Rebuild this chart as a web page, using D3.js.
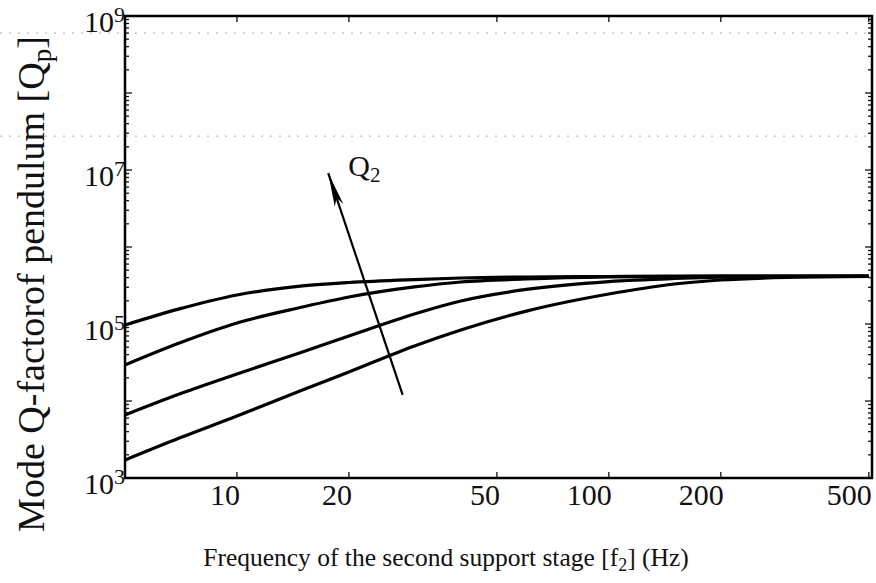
<!DOCTYPE html>
<html>
<head>
<meta charset="utf-8">
<title>Mode Q-factor of pendulum</title>
<script src="https://d3js.org/d3.v7.min.js"></script>
<style>
  body { margin: 0; background: #fff; }
  text { font-family: "Liberation Serif", "DejaVu Serif", serif; fill: #111; }
</style>
</head>
<body>
<svg width="876" height="583"></svg>

<script>
// frequency of second stage (Hz), shared by all curves
var freqs = [5, 7, 10, 15, 20, 30, 40, 60, 100, 150, 200, 300, 500];

// Q of pendulum mode for increasing Q2 (curve 4 = lowest Q2)
var qCurve1 = [9.7e4, 1.57e5, 2.38e5, 3.12e5, 3.46e5, 3.78e5, 3.96e5, 4.08e5, 4.14e5, 4.2e5, 4.2e5, 4.2e5, 4.2e5];
var qCurve2 = [2.94e4, 5.66e4, 1.03e5, 1.66e5, 2.24e5, 3.03e5, 3.51e5, 3.84e5, 4.08e5, 4.14e5, 4.2e5, 4.2e5, 4.2e5];
var qCurve3 = [6.58e3, 1.23e4, 2.24e4, 4.33e4, 6.98e4, 1.35e5, 1.99e5, 2.81e5, 3.56e5, 3.9e5, 4.06e5, 4.14e5, 4.2e5];
var qCurve4 = [1.71e3, 3.3e3, 6.38e3, 1.39e4, 2.38e4, 5.18e4, 8.35e4, 1.47e5, 2.45e5, 3.31e5, 3.73e5, 4.02e5, 4.14e5];

var xTicks = [10, 20, 50, 100, 200, 500];
var yTickExps = [3, 5, 7, 9];

// direction arrow "Q2 increasing": [f, Q] of tail and head
var arrowTail = [27.9, 1.2e4];
var arrowHead = [17.6, 9.1e6];

// faint scan lines seen on the original sheet (Q levels)
var scanLines = [6e8, 2.75e7];

var svg = d3.select("svg");

var x = d3.scaleLog().domain([5, 510]).range([125, 872]);
var y = d3.scaleLog().domain([1e3, 1e9]).range([478, 16]);

// scan lines
svg.selectAll(".scan")
  .data(scanLines)
  .enter().append("line")
  .attr("x1", 0).attr("x2", 872)
  .attr("y1", function(d) { return y(d); })
  .attr("y2", function(d) { return y(d); })
  .attr("stroke", "#aaa")
  .attr("stroke-width", 1)
  .attr("stroke-dasharray", "2,7");

// minor + major ticks on y (both sides, inward)
var yMinor = [];
for (var e = 3; e < 9; e++) {
  for (var m = 1; m < 10; m++) yMinor.push(m * Math.pow(10, e));
}
yMinor.push(1e9);

var tickG = svg.append("g").attr("stroke", "#111").attr("stroke-width", 1.3);
yMinor.forEach(function(v) {
  var major = Math.abs(Math.log10(v) - Math.round(Math.log10(v))) < 1e-9;
  var len = major ? 7 : 4;
  tickG.append("line").attr("x1", 125).attr("x2", 125 + len).attr("y1", y(v)).attr("y2", y(v));
  tickG.append("line").attr("x1", 872).attr("x2", 872 - len).attr("y1", y(v)).attr("y2", y(v));
});
xTicks.forEach(function(v) {
  tickG.append("line").attr("x1", x(v)).attr("x2", x(v)).attr("y1", 478).attr("y2", 472);
  tickG.append("line").attr("x1", x(v)).attr("x2", x(v)).attr("y1", 16).attr("y2", 22);
});

// frame
svg.append("rect")
  .attr("x", 125).attr("y", 16)
  .attr("width", 872 - 125).attr("height", 478 - 16)
  .attr("fill", "none")
  .attr("stroke", "#000")
  .attr("stroke-width", 2.5);

// x tick labels
svg.selectAll(".xlab")
  .data(xTicks)
  .enter().append("text")
  .attr("x", function(d) { return x(d) + 3; })
  .attr("y", 505)
  .attr("text-anchor", "end")
  .attr("font-size", 30)
  .text(function(d) { return d; });

// y tick labels 10^n
var yl = svg.selectAll(".ylab")
  .data(yTickExps)
  .enter().append("text")
  .attr("x", 125)
  .attr("y", function(d) { return y(Math.pow(10, d)) + 16; })
  .attr("text-anchor", "end")
  .attr("font-size", 30);
yl.append("tspan").text("10");
yl.append("tspan").attr("font-size", 22).attr("dy", -10).text(function(d) { return d; });

// curves
var line = d3.line()
  .x(function(d) { return x(d[0]); })
  .y(function(d) { return y(d[1]); })
  .curve(d3.curveMonotoneX);

[qCurve1, qCurve2, qCurve3, qCurve4].forEach(function(q) {
  svg.append("path")
    .datum(freqs.map(function(f, i) { return [f, q[i]]; }))
    .attr("d", line)
    .attr("fill", "none")
    .attr("stroke", "#000")
    .attr("stroke-width", 3.2)
    .attr("stroke-linejoin", "round");
});

// arrow
var tx = x(arrowTail[0]), ty = y(arrowTail[1]);
var hx = x(arrowHead[0]), hy = y(arrowHead[1]);
svg.append("line")
  .attr("x1", tx).attr("y1", ty).attr("x2", hx).attr("y2", hy)
  .attr("stroke", "#000").attr("stroke-width", 2.2);
var ang = Math.atan2(ty - hy, tx - hx);
var ux = Math.cos(ang), uy = Math.sin(ang), px = -uy, py = ux;
var L = 34, W = 4.5;
var head = [
  [hx, hy],
  [hx + ux * L + px * W, hy + uy * L + py * W],
  [hx + ux * (L - 8), hy + uy * (L - 8)],
  [hx + ux * L - px * W, hy + uy * L - py * W]
];
svg.append("polygon")
  .attr("points", head.map(function(p) { return p.join(","); }).join(" "))
  .attr("fill", "#000");

var ql = svg.append("text")
  .attr("x", hx + 20)
  .attr("y", hy + 3)
  .attr("font-size", 30);
ql.append("tspan").text("Q");
ql.append("tspan").attr("font-size", 21).attr("dy", 6).text("2");

// axis titles
var xt = svg.append("text")
  .attr("x", 446)
  .attr("y", 566)
  .attr("text-anchor", "middle")
  .attr("font-size", 25.5);
xt.append("tspan").text("Frequency of the second support stage [f");
xt.append("tspan").attr("font-size", 18).attr("dy", 5).text("2");
xt.append("tspan").attr("dy", -5).text("] (Hz)");

var yt = svg.append("text")
  .attr("transform", "translate(44,284) rotate(-90)")
  .attr("text-anchor", "middle")
  .attr("font-size", 38);
yt.append("tspan").text("Mode Q-factorof pendulum [Q");
yt.append("tspan").attr("font-size", 27).attr("dy", 7).text("p");
yt.append("tspan").attr("dy", -7).text("]");
</script>
</body>
</html>
